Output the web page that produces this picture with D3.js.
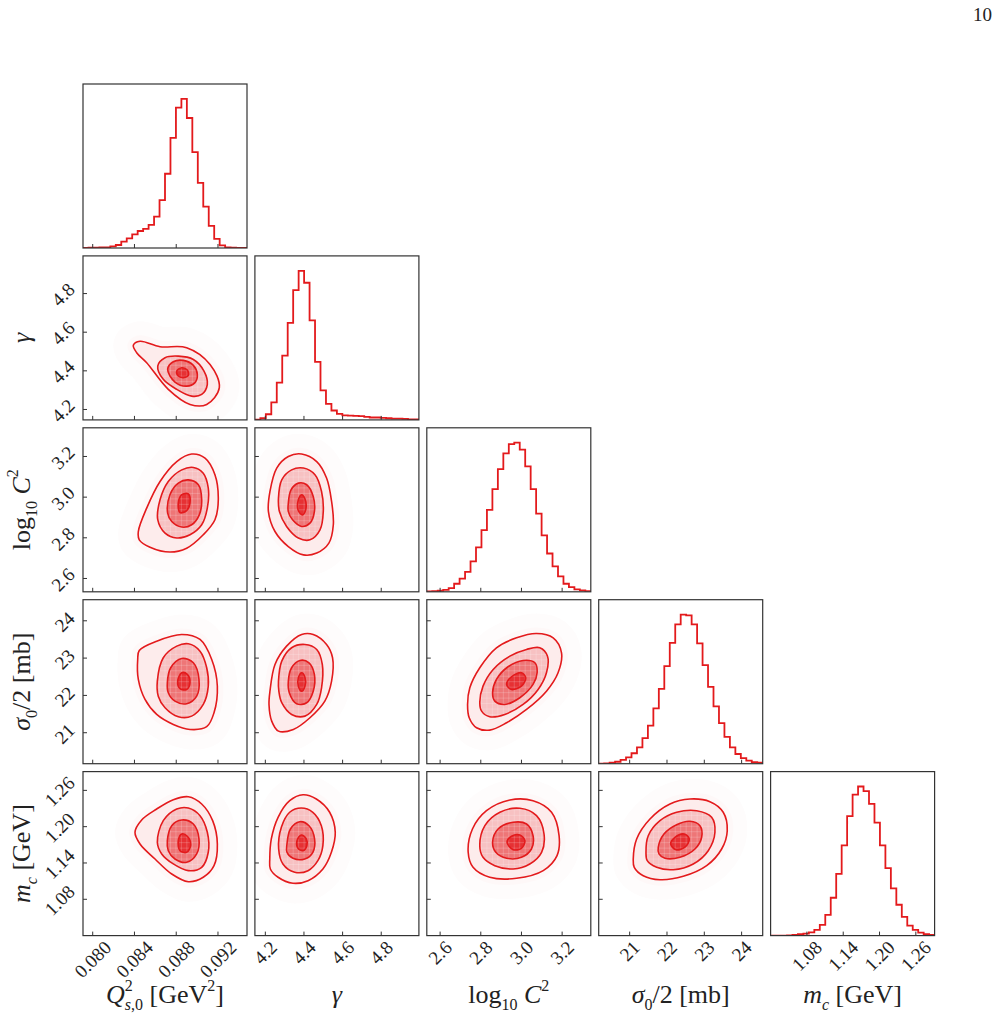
<!DOCTYPE html>
<html><head><meta charset="utf-8">
<script src="https://cdn.jsdelivr.net/npm/d3@7"></script>
<style>body{margin:0;background:#fff}svg{display:block}</style>
</head><body>
<svg id="c" width="998" height="1024"></svg>
<script>
// ---------- data ----------
const domQ2 = [0.07907, 0.09478];
const domGamma = [4.146, 4.995];
const domLogC2 = [2.5345, 3.341];
const domSigma = [20.17, 24.565];
const domMc = [1.020, 1.291];

const ticksQ2 = [0.080, 0.084, 0.088, 0.092];
const ticksGamma = [4.2, 4.4, 4.6, 4.8];
const ticksLogC2 = [2.6, 2.8, 3.0, 3.2];
const ticksSigma = [21, 22, 23, 24];
const ticksMc = [1.08, 1.14, 1.20, 1.26];
const tickLabelsQ2 = ["0.080", "0.084", "0.088", "0.092"];
const tickLabelsGamma = ["4.2", "4.4", "4.6", "4.8"];
const tickLabelsLogC2 = ["2.6", "2.8", "3.0", "3.2"];
const tickLabelsSigma = ["21", "22", "23", "24"];
const tickLabelsMc = ["1.08", "1.14", "1.20", "1.26"];

// 1D marginal histograms (30 bins over the axis range, relative counts)
const histQ2 = [0,2,2,4,4,11,20,43,65,92,114,128,155,211,321,498,738,942,1000,872,643,437,278,148,61,18,4,2,0,0];
const histGamma = [2,11,38,117,250,431,651,871,1000,920,668,389,198,108,63,40,31,29,27,25,20,16,16,13,11,9,9,7,4,4];
const histLogC2 = [2,4,7,13,25,54,89,134,204,298,414,550,689,823,928,991,1000,953,841,689,524,378,257,170,103,54,31,16,9,4];
const histSigma = [0,2,7,13,25,43,70,110,171,256,371,502,655,810,934,1000,995,934,807,661,515,385,272,180,110,65,38,20,11,7];
const histMc = [0,0,0,2,4,9,13,22,38,72,139,254,414,605,801,945,1000,969,884,758,605,452,317,207,126,67,38,20,9,4];

// 2D credible contours (outer -> inner), points in data units [x, y]
const contGammaQ2 = [
 [[0.08389,4.532],[0.08453,4.553],[0.08645,4.525],[0.08900,4.520],[0.09124,4.433],[0.09213,4.313],[0.09092,4.226],[0.08932,4.226],[0.08724,4.304],[0.08517,4.442],[0.08421,4.494]],
 [[0.08623,4.425],[0.08693,4.468],[0.08820,4.476],[0.08964,4.459],[0.09066,4.399],[0.09098,4.330],[0.09044,4.278],[0.08948,4.269],[0.08805,4.304],[0.08676,4.356]],
 [[0.08718,4.408],[0.08772,4.447],[0.08868,4.454],[0.08964,4.428],[0.09002,4.382],[0.08980,4.339],[0.08900,4.321],[0.08788,4.342]],
 [[0.08805,4.399],[0.08853,4.416],[0.08906,4.404],[0.08916,4.376],[0.08868,4.365],[0.08820,4.373]]
];
const contLogC2Q2 = [
 [[0.08437,2.831],[0.08517,2.946],[0.08645,3.077],[0.08805,3.175],[0.08948,3.212],[0.09076,3.192],[0.09171,3.110],[0.09203,2.987],[0.09171,2.889],[0.09059,2.815],[0.08900,2.749],[0.08740,2.730],[0.08549,2.754],[0.08446,2.790]],
 [[0.08623,2.889],[0.08645,2.987],[0.08724,3.077],[0.08853,3.134],[0.08964,3.146],[0.09059,3.118],[0.09107,3.044],[0.09098,2.946],[0.09044,2.864],[0.08932,2.815],[0.08805,2.799],[0.08693,2.823]],
 [[0.08718,2.922],[0.08740,3.012],[0.08820,3.069],[0.08916,3.085],[0.09012,3.061],[0.09044,2.987],[0.09021,2.913],[0.08948,2.864],[0.08853,2.853],[0.08757,2.880]],
 [[0.08820,2.971],[0.08853,3.012],[0.08916,3.016],[0.08932,2.971],[0.08900,2.934],[0.08836,2.924]]
];
const contSigmaQ2 = [
 [[0.08446,23.205],[0.08613,23.454],[0.08853,23.633],[0.09028,23.499],[0.09140,22.964],[0.09194,22.248],[0.09162,21.536],[0.09092,21.161],[0.08932,21.088],[0.08772,21.222],[0.08613,21.490],[0.08501,21.892],[0.08437,22.428],[0.08431,22.964]],
 [[0.08619,22.382],[0.08676,23.009],[0.08805,23.320],[0.08916,23.384],[0.09028,23.186],[0.09092,22.741],[0.09107,22.248],[0.09059,21.758],[0.08948,21.445],[0.08820,21.429],[0.08693,21.670],[0.08628,21.980]],
 [[0.08715,22.339],[0.08747,22.741],[0.08853,22.990],[0.08964,22.875],[0.09018,22.428],[0.08996,21.980],[0.08900,21.777],[0.08788,21.846],[0.08724,22.072]],
 [[0.08814,22.382],[0.08853,22.607],[0.08906,22.562],[0.08932,22.339],[0.08900,22.160],[0.08836,22.179]]
];
const contMcQ2 = [
 [[0.08405,1.1907],[0.08469,1.2111],[0.08613,1.2292],[0.08772,1.2446],[0.08916,1.2495],[0.09044,1.2375],[0.09149,1.2099],[0.09194,1.1714],[0.09162,1.1356],[0.09059,1.1164],[0.08916,1.1091],[0.08757,1.1218],[0.08597,1.1466],[0.08453,1.1714]],
 [[0.08619,1.1742],[0.08676,1.2099],[0.08805,1.2292],[0.08916,1.2309],[0.09028,1.2182],[0.09098,1.1907],[0.09107,1.1577],[0.09044,1.1329],[0.08916,1.1273],[0.08772,1.1384],[0.08661,1.1549]],
 [[0.08715,1.1769],[0.08757,1.2016],[0.08853,1.2111],[0.08964,1.2044],[0.09018,1.1797],[0.08996,1.1549],[0.08900,1.1412],[0.08788,1.1466],[0.08724,1.1603]],
 [[0.08820,1.1769],[0.08853,1.1879],[0.08906,1.1841],[0.08939,1.1698],[0.08900,1.1577],[0.08836,1.1603]]
];
const contLogC2Gamma = [
 [[4.224,3.028],[4.259,3.143],[4.319,3.200],[4.388,3.212],[4.466,3.175],[4.517,3.094],[4.543,2.979],[4.552,2.864],[4.529,2.774],[4.466,2.725],[4.397,2.716],[4.319,2.757],[4.250,2.831],[4.216,2.929]],
 [[4.268,2.995],[4.285,3.085],[4.336,3.134],[4.397,3.143],[4.457,3.110],[4.491,3.028],[4.500,2.929],[4.483,2.839],[4.431,2.790],[4.371,2.799],[4.310,2.856],[4.273,2.929]],
 [[4.319,2.971],[4.333,3.036],[4.371,3.069],[4.414,3.061],[4.448,3.003],[4.454,2.929],[4.431,2.872],[4.388,2.856],[4.341,2.889],[4.319,2.929]],
 [[4.371,2.987],[4.388,3.012],[4.405,2.992],[4.409,2.938],[4.392,2.913],[4.371,2.933]]
];
const contSigmaGamma = [
 [[4.224,22.114],[4.250,22.830],[4.310,23.320],[4.388,23.633],[4.448,23.633],[4.517,23.365],[4.548,23.009],[4.543,22.382],[4.508,21.846],[4.431,21.402],[4.345,21.088],[4.268,21.043],[4.233,21.311],[4.219,21.758]],
 [[4.268,22.382],[4.285,22.918],[4.336,23.277],[4.405,23.365],[4.466,23.232],[4.495,22.830],[4.491,22.205],[4.466,21.758],[4.405,21.445],[4.336,21.490],[4.285,21.804],[4.270,22.114]],
 [[4.319,22.382],[4.336,22.741],[4.379,22.937],[4.426,22.875],[4.454,22.562],[4.448,22.114],[4.414,21.804],[4.362,21.777],[4.324,22.072]],
 [[4.371,22.473],[4.388,22.607],[4.405,22.489],[4.405,22.248],[4.388,22.114],[4.371,22.248]]
];
const contMcGamma = [
 [[4.223,1.1466],[4.231,1.1797],[4.266,1.2155],[4.326,1.2429],[4.395,1.2528],[4.464,1.2457],[4.533,1.2238],[4.562,1.1907],[4.542,1.1577],[4.498,1.1301],[4.421,1.1108],[4.343,1.1065],[4.266,1.1164],[4.226,1.1301]],
 [[4.269,1.1631],[4.283,1.1990],[4.326,1.2238],[4.386,1.2309],[4.446,1.2238],[4.490,1.2016],[4.498,1.1686],[4.472,1.1438],[4.421,1.1273],[4.352,1.1247],[4.291,1.1384]],
 [[4.312,1.1714],[4.330,1.1962],[4.378,1.2082],[4.426,1.2016],[4.455,1.1797],[4.446,1.1577],[4.404,1.1466],[4.343,1.1478],[4.312,1.1577]],
 [[4.364,1.1769],[4.386,1.1863],[4.412,1.1797],[4.415,1.1686],[4.395,1.1603],[4.369,1.1643]]
];
const contSigmaLogC2 = [
 [[2.735,21.758],[2.746,22.205],[2.795,22.741],[2.877,23.277],[2.976,23.545],[3.074,23.660],[3.156,23.545],[3.197,23.143],[3.180,22.607],[3.123,22.114],[3.025,21.624],[2.927,21.268],[2.844,21.070],[2.779,21.134],[2.743,21.402]],
 [[2.795,21.804],[2.811,22.248],[2.861,22.696],[2.943,23.052],[3.025,23.232],[3.090,23.277],[3.128,23.052],[3.123,22.607],[3.082,22.160],[3.008,21.758],[2.918,21.490],[2.844,21.429],[2.804,21.579]],
 [[2.858,22.072],[2.877,22.428],[2.934,22.768],[3.008,22.937],[3.066,22.875],[3.077,22.607],[3.057,22.294],[2.992,21.938],[2.918,21.758],[2.869,21.846]],
 [[2.927,22.294],[2.951,22.500],[3.000,22.607],[3.021,22.473],[3.000,22.248],[2.951,22.160]]
];
const contMcLogC2 = [
 [[2.738,1.1577],[2.759,1.1962],[2.828,1.2264],[2.943,1.2441],[3.057,1.2429],[3.148,1.2238],[3.185,1.1851],[3.175,1.1521],[3.107,1.1273],[2.976,1.1147],[2.844,1.1164],[2.762,1.1329]],
 [[2.795,1.1686],[2.820,1.2016],[2.894,1.2238],[2.992,1.2304],[3.074,1.2182],[3.111,1.1879],[3.099,1.1577],[3.041,1.1384],[2.959,1.1301],[2.869,1.1356],[2.811,1.1494]],
 [[2.858,1.1742],[2.885,1.1962],[2.959,1.2073],[3.025,1.2044],[3.057,1.1851],[3.049,1.1631],[3.000,1.1494],[2.927,1.1478],[2.874,1.1577]],
 [[2.929,1.1742],[2.951,1.1841],[2.992,1.1863],[3.017,1.1769],[3.000,1.1643],[2.959,1.1620]]
];
const contMcSigma = [
 [[21.096,1.1466],[21.187,1.1797],[21.544,1.2127],[22.080,1.2375],[22.615,1.2457],[23.151,1.2413],[23.507,1.2238],[23.615,1.1934],[23.465,1.1631],[23.063,1.1356],[22.436,1.1180],[21.812,1.1124],[21.364,1.1190],[21.123,1.1329]],
 [[21.437,1.1577],[21.498,1.1851],[21.812,1.2099],[22.259,1.2238],[22.795,1.2264],[23.197,1.2155],[23.285,1.1907],[23.106,1.1603],[22.704,1.1384],[22.168,1.1289],[21.723,1.1329],[21.471,1.1438]],
 [[21.766,1.1660],[21.919,1.1879],[22.259,1.2033],[22.615,1.2089],[22.883,1.2016],[22.929,1.1825],[22.749,1.1631],[22.347,1.1494],[21.946,1.1478],[21.785,1.1549]],
 [[22.098,1.1714],[22.213,1.1825],[22.463,1.1879],[22.597,1.1797],[22.481,1.1660],[22.240,1.1620]]
];

// axis labels as text segments
const labelQ2 = [{t:"Q",it:1},{t:"2",sup:1},{t:"s",sub:1,it:1,back:1},{t:",0",sub:1},{t:"\u00A0[GeV"},{t:"2",sup:1},{t:"]"}];
const labelGamma = [{t:"\u03B3",it:1}];
const labelLogC2 = [{t:"log"},{t:"10",sub:1},{t:"\u00A0"},{t:"C",it:1},{t:"2",sup:1}];
const labelSigma = [{t:"\u03C3",it:1},{t:"0",sub:1},{t:"/2\u00A0[mb]"}];
const labelMc = [{t:"m",it:1},{t:"c",sub:1,it:1},{t:"\u00A0[GeV]"}];
const pageNumber = "10";

// ---------- assembly ----------
const domains = [domQ2, domGamma, domLogC2, domSigma, domMc];
const ticks = [ticksQ2, ticksGamma, ticksLogC2, ticksSigma, ticksMc];
const tickLabels = [tickLabelsQ2, tickLabelsGamma, tickLabelsLogC2, tickLabelsSigma, tickLabelsMc];
const hists = [histQ2, histGamma, histLogC2, histSigma, histMc];
const labels = [labelQ2, labelGamma, labelLogC2, labelSigma, labelMc];
const contours = {
  "1,0": contGammaQ2, "2,0": contLogC2Q2, "3,0": contSigmaQ2, "4,0": contMcQ2,
  "2,1": contLogC2Gamma, "3,1": contSigmaGamma, "4,1": contMcGamma,
  "3,2": contSigmaLogC2, "4,2": contMcLogC2, "4,3": contMcSigma
};

const RED = "#e31a1c";
const FONT = "'Liberation Serif','Times New Roman',serif";
const X0 = 83, Y0 = 84, SIZE = 164, STRIDE = 171.9;
const N = 5;
const svg = d3.select("#c");
svg.append("rect").attr("width", 998).attr("height", 1024).attr("fill", "#fff");
const defs = svg.append("defs");

const colX = j => X0 + j * STRIDE;
const rowY = i => Y0 + i * STRIDE;
const xs = domains.map((d, j) => d3.scaleLinear().domain(d).range([colX(j), colX(j) + SIZE]));
const ys = domains.map((d, i) => d3.scaleLinear().domain(d).range([rowY(i) + SIZE, rowY(i)]));

const closed = d3.line().curve(d3.curveCatmullRomClosed.alpha(0.5));

for (let i = 0; i < N; i++) {
  for (let j = 0; j <= i; j++) {
    const left = colX(j), top = rowY(i), bottom = top + SIZE;
    const g = svg.append("g");
    const cid = `clip${i}${j}`;
    defs.append("clipPath").attr("id", cid).append("rect")
      .attr("x", left).attr("y", top).attr("width", SIZE).attr("height", SIZE);
    const inner = g.append("g").attr("clip-path", `url(#${cid})`);
    const xsc = xs[j];

    if (i === j) {
      const h = hists[i];
      const nb = h.length;
      const edges = d3.range(nb + 1).map(k => domains[j][0] + (domains[j][1] - domains[j][0]) * k / nb);
      const yh = d3.scaleLinear().domain([0, 1.1 * d3.max(h)]).range([bottom, top]);
      const pts = [[xsc(edges[0]), yh(0)]];
      h.forEach((v, k) => { pts.push([xsc(edges[k]), yh(v)]); pts.push([xsc(edges[k + 1]), yh(v)]); });
      pts.push([xsc(edges[nb]), yh(0)]);
      inner.append("path").attr("d", d3.line()(pts)).attr("fill", "none")
        .attr("stroke", RED).attr("stroke-width", 1.8).attr("stroke-linejoin", "miter");
    } else {
      const ysc = ys[i];
      const cs = contours[`${i},${j}`];
      const paths = cs.map(c => closed(c.map(p => [xsc(p[0]), ysc(p[1])])));
      // very faint haze around the distribution
      inner.append("path").attr("d", paths[0]).attr("fill", "#fefcfc")
        .attr("stroke", "#fefcfc").attr("stroke-width", 40).attr("stroke-linejoin", "round");
      inner.append("path").attr("d", paths[0]).attr("fill", "#fef8f8")
        .attr("stroke", "#fef8f8").attr("stroke-width", 12).attr("stroke-linejoin", "round");
      const ops = [0.05, 0.2, 0.45, 0.74];
      paths.forEach((p, k) => inner.append("path").attr("d", p).attr("fill", RED).attr("fill-opacity", ops[k]));
      // 2D-histogram cell grid texture
      const gid = `gclip${i}${j}`;
      defs.append("clipPath").attr("id", gid).append("path").attr("d", paths[1]);
      const gg = inner.append("g").attr("clip-path", `url(#${gid})`)
        .attr("stroke", "#fff").attr("stroke-opacity", 0.28).attr("stroke-width", 0.7);
      d3.range(31).forEach(k => {
        const gx = left + SIZE * k / 30, gy = top + SIZE * k / 30;
        gg.append("line").attr("x1", gx).attr("x2", gx).attr("y1", top).attr("y2", bottom);
        gg.append("line").attr("y1", gy).attr("y2", gy).attr("x1", left).attr("x2", left + SIZE);
      });
      paths.forEach(p => inner.append("path").attr("d", p).attr("fill", "none")
        .attr("stroke", RED).attr("stroke-width", 1.6));
      // left ticks (inward)
      ticks[i].forEach(t => g.append("line").attr("x1", left).attr("x2", left + 4)
        .attr("y1", ysc(t)).attr("y2", ysc(t)).attr("stroke", "#333").attr("stroke-width", 1));
    }
    // bottom ticks (inward)
    ticks[j].forEach(t => g.append("line").attr("x1", xsc(t)).attr("x2", xsc(t))
      .attr("y1", bottom).attr("y2", bottom - 4).attr("stroke", "#333").attr("stroke-width", 1));
    g.append("rect").attr("x", left).attr("y", top).attr("width", SIZE).attr("height", SIZE)
      .attr("fill", "none").attr("stroke", "#333").attr("stroke-width", 1.2);
  }
}

// tick labels
const TFS = 19;
function rotLabel(txt, cx, cy, mode) {
  const t = svg.append("text").text(txt).attr("font-family", FONT).attr("font-size", TFS)
    .attr("text-anchor", "middle").attr("dominant-baseline", "central").attr("fill", "#222");
  const L = t.node().getComputedTextLength();
  const side = (L + 0.68 * TFS) / Math.SQRT2;
  const px = mode === "x" ? cx : cx - side / 2;
  const py = mode === "x" ? cy + side / 2 : cy;
  t.attr("transform", `translate(${px},${py}) rotate(-45)`);
}
for (let j = 0; j < N; j++) {
  ticks[j].forEach((t, k) => rotLabel(tickLabels[j][k], xs[j](t), rowY(4) + SIZE + 4, "x"));
}
for (let i = 1; i < N; i++) {
  ticks[i].forEach((t, k) => rotLabel(tickLabels[i][k], X0 - 7, ys[i](t) + 1, "y"));
}

// axis labels
const LFS = 26;
function mathLabel(segs, x, y, rotate) {
  const t = svg.append("text").attr("font-family", FONT).attr("font-size", LFS)
    .attr("text-anchor", "middle").attr("fill", "#222")
    .attr("transform", `translate(${x},${y})` + (rotate ? " rotate(-90)" : ""));
  let cur = 0;
  segs.forEach(s => {
    const target = s.sup ? -12 : s.sub ? 7 : 0;
    const sp = t.append("tspan").text(s.t).attr("dy", target - cur);
    cur = target;
    if (s.it) sp.attr("font-style", "italic");
    if (s.sup || s.sub) sp.attr("font-size", 16);
    if (s.back) sp.attr("dx", -8);
  });
}
for (let j = 0; j < N; j++) mathLabel(labels[j], colX(j) + SIZE / 2, 1003, false);
for (let i = 1; i < N; i++) mathLabel(labels[i], 30, rowY(i) + SIZE / 2, true);

svg.append("text").text(pageNumber).attr("x", 992).attr("y", 21).attr("text-anchor", "end")
  .attr("font-family", FONT).attr("font-size", 19).attr("fill", "#222");
</script>
</body></html>
